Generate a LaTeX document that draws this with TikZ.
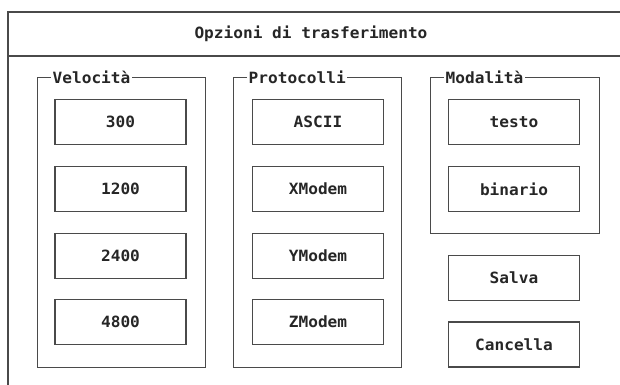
\documentclass[tikz,border=0pt]{standalone}
\usepackage{fontspec}
\newfontfamily\dosfont[FakeStretch=1.04]{DejaVu Sans Mono}
\definecolor{ink}{HTML}{262626}
\definecolor{frame}{HTML}{4A4A4A}
\tikzset{
  every node/.style={font=\dosfont\bfseries\fontsize{15.5}{17}\selectfont, text=ink},
  btn/.style={draw=frame, line width=1.2pt, minimum width=131pt, minimum height=45pt, inner sep=0pt},
  grp/.style={draw=frame, line width=1.2pt, inner sep=0pt, anchor=north west},
  glabel/.style={fill=white, inner xsep=1.5pt, inner ysep=0pt, anchor=west},
  rule/.style={draw=frame, line width=1.2pt}
}
\begin{document}
\begin{tikzpicture}[x=1pt,y=-1pt]
\useasboundingbox (0,0) rectangle (620,384);
\clip (0,0) rectangle (620,384);
% outer window
\coordinate (wtl) at (8,12);
\coordinate (wtr) at (622,12);
\coordinate (wbl) at (8,386);
\coordinate (dl) at (8,56);
\coordinate (dr) at (622,56);
\draw[rule] (wbl) -- (wtl) -- (wtr);
\draw[rule] (dl) -- (dr);
\node (title) at (311,34) {Opzioni di trasferimento};
% group frames
\node[grp, minimum width=168pt, minimum height=290pt] (gv) at (37,77) {};
\node[grp, minimum width=168pt, minimum height=290pt] (gp) at (233,77) {};
\node[grp, minimum width=169pt, minimum height=156pt] (gm) at (430,77) {};
\node[glabel] (lv) at ([xshift=14pt,yshift=-0.5pt]gv.north west) {Velocità};
\node[glabel] (lp) at ([xshift=14pt,yshift=-0.5pt]gp.north west) {Protocolli};
\node[glabel] (lm) at ([xshift=14pt,yshift=-0.5pt]gm.north west) {Modalità};
% buttons
\node[btn] (b300) at (120.5,122) {300};
\node[btn] (b1200) at (120.5,189) {1200};
\node[btn] (b2400) at (120.5,256) {2400};
\node[btn] (b4800) at (120.5,322) {4800};
\node[btn] (ascii) at (318,122) {ASCII};
\node[btn] (xm) at (318,189) {XModem};
\node[btn] (ym) at (318,256) {YModem};
\node[btn] (zm) at (318,322) {ZModem};
\node[btn] (testo) at (514,122) {testo};
\node[btn] (bin) at (514,189) {binario};
\node[btn] (salva) at (514,278) {Salva};
\node[btn] (canc) at (514,344.5) {Cancella};
\end{tikzpicture}
\end{document}
